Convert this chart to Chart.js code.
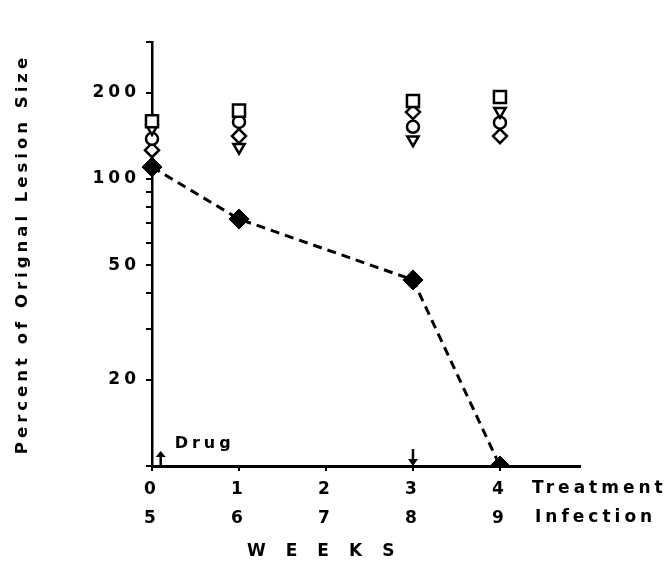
<!DOCTYPE html>
<html>
<head>
<meta charset="utf-8">
<script src="https://cdn.jsdelivr.net/npm/chart.js@4.4.1/dist/chart.umd.min.js"></script>
<style>
  html, body { margin: 0; padding: 0; background: #fff; }
  #wrap { width: 668px; height: 566px; }
</style>
</head>
<body>
<div id="wrap"><canvas id="c" width="668" height="566"></canvas></div>
<script>
// ---- data ----
const treatmentWeeks = [0, 1, 3, 4];          // x positions (treatment weeks)
const infectionOffset = 5;                    // infection week = treatment week + 5
const openSquare   = [159, 173, 187, 193];
const openTriangle = [150, 129, 137, 172];
const openCircle   = [138, 158, 152, 157];
const openDiamond  = [126, 141, 171, 141];
const treatedMean  = [110, 72.5, 44.5, 10];
const yTickValues  = [10, 20, 30, 40, 50, 60, 70, 80, 90, 100, 200, 300];
const yLabelled    = [20, 50, 100, 200];
const xTickValues  = [0, 1, 2, 3, 4];

const pts = arr => treatmentWeeks.map((w, i) => ({ x: w, y: arr[i] }));
const FONT = "'DejaVu Sans', sans-serif";

function openSet(label, data, style, radius, rot) {
  return {
    label, data: pts(data), showLine: false,
    pointStyle: style, pointRadius: radius, pointHoverRadius: radius,
    pointRotation: rot || 0,
    pointBackgroundColor: '#fff', pointBorderColor: '#000', pointBorderWidth: 2.5,
    clip: false, order: 2
  };
}

const spacing = {
  id: 'spacing',
  beforeInit(c) { c.ctx.letterSpacing = '4px'; },
  beforeUpdate(c) { c.ctx.letterSpacing = '4px'; },
  beforeDraw(c) { c.ctx.letterSpacing = '4px'; }
};

// clip only below the x axis (so the last diamond sits half-hidden on the axis)
const bottomClip = {
  id: 'bottomClip',
  beforeDatasetDraw(c, args) {
    const ctx = c.ctx;
    ctx.save();
    ctx.beginPath();
    ctx.rect(0, 0, c.width, c.chartArea.bottom);
    ctx.clip();
  },
  afterDatasetDraw(c) { c.ctx.restore(); }
};

const annotate = {
  id: 'annotate',
  afterDraw(c) {
    const ctx = c.ctx, xs = c.scales.x, ys = c.scales.y;
    const base = ys.bottom;
    ctx.save();
    ctx.fillStyle = '#000'; ctx.strokeStyle = '#000'; ctx.lineWidth = 2.5;
    // Drug up-arrow
    const xd = xs.getPixelForValue(0.1);
    ctx.beginPath(); ctx.moveTo(xd, base); ctx.lineTo(xd, base - 11); ctx.stroke();
    ctx.beginPath(); ctx.moveTo(xd - 5, base - 9); ctx.lineTo(xd + 5, base - 9); ctx.lineTo(xd, base - 15); ctx.closePath(); ctx.fill();
    // down-arrow at week 3
    const x3 = xs.getPixelForValue(3);
    ctx.beginPath(); ctx.moveTo(x3, base - 17); ctx.lineTo(x3, base - 4); ctx.stroke();
    ctx.beginPath(); ctx.moveTo(x3 - 5, base - 7); ctx.lineTo(x3 + 5, base - 7); ctx.lineTo(x3, base); ctx.closePath(); ctx.fill();
    // texts
    ctx.font = "bold 16px " + FONT;
    ctx.textBaseline = 'middle'; ctx.textAlign = 'left';
    ctx.letterSpacing = '4px';
    ctx.fillText('Drug', xd + 14, base - 22);
    ctx.font = "bold 17px " + FONT;
    ctx.fillText('Treatment', 532, 489);
    ctx.fillText('Infection', 535, 518);
    ctx.letterSpacing = '20px';
    ctx.fillText('WEEKS', 247, 552);
    ctx.restore();
  }
};

new Chart(document.getElementById('c'), {
  type: 'scatter',
  data: {
    datasets: [
      {
        label: 'Treated', data: pts(treatedMean), showLine: true,
        borderColor: '#000', borderWidth: 3, borderDash: [9, 6],
        pointStyle: 'rectRot', pointRadius: 10, pointHoverRadius: 10,
        pointBackgroundColor: '#000', pointBorderColor: '#000', pointBorderWidth: 1,
        clip: false, order: 1
      },
      openSet('Square', openSquare, 'rect', 8.5),
      openSet('Triangle', openTriangle, 'triangle', 6.5, 180),
      openSet('Circle', openCircle, 'circle', 6),
      openSet('Diamond', openDiamond, 'rectRot', 7)
    ]
  },
  options: {
    responsive: false, animation: false, devicePixelRatio: 1,
    layout: { padding: { top: 42, right: 88, left: 0, bottom: 0 } },
    plugins: { legend: { display: false }, tooltip: { enabled: false } },
    scales: {
      x: {
        type: 'linear', min: 0, max: 4.92,
        afterBuildTicks: s => { s.ticks = xTickValues.map(v => ({ value: v })); },
        afterFit: s => { s.height = 100; },
        border: { display: true, color: '#000', width: 3 },
        grid: { drawOnChartArea: false, drawTicks: true, tickLength: 5, color: '#000', lineWidth: 2 },
        ticks: {
          autoSkip: false, maxRotation: 0, color: '#000', padding: 4,
          font: { family: FONT, size: 17, weight: 'bold', lineHeight: 1.7 },
          callback: v => [String(v), String(v + infectionOffset)]
        }
      },
      y: {
        type: 'logarithmic', min: 10, max: 300,
        afterBuildTicks: s => { s.ticks = yTickValues.map(v => ({ value: v })); },
        afterFit: s => { s.width = 152; },
        border: { display: true, color: '#000', width: 2.5 },
        grid: { drawOnChartArea: false, drawTicks: true, tickLength: 6, color: '#000', lineWidth: 2 },
        ticks: {
          autoSkip: false, color: '#000', padding: 6,
          font: { family: FONT, size: 17, weight: 'bold' },
          callback: v => (yLabelled.includes(v) ? String(v) : '')
        },
        title: {
          display: true, text: 'Percent of Orignal Lesion Size', color: '#000',
          font: { family: FONT, size: 16.5, weight: 'bold', lineHeight: 1.2 },
          padding: { top: 13, bottom: 0 }
        }
      }
    }
  },
  plugins: [spacing, bottomClip, annotate]
});
</script>
</body>
</html>
